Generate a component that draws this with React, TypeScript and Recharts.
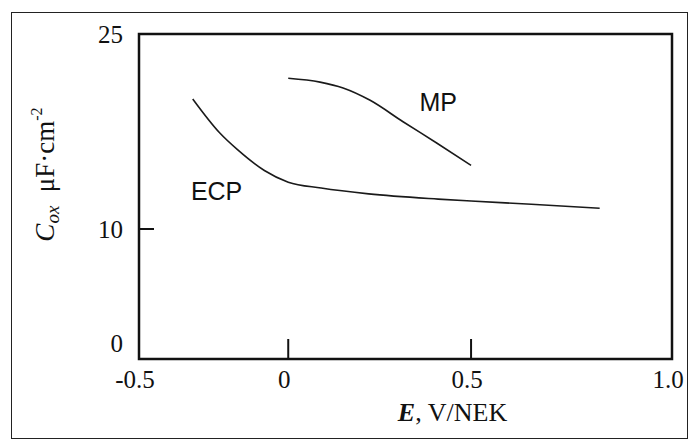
import React from "react"
import { LineChart, Line, XAxis, YAxis, ReferenceArea, ReferenceDot } from "recharts"

// axis ticks
const xTicks = [-0.5, 0, 0.5, 1.0]
const xTickLabels = ["-0.5", "0", "0.5", "1.0"]
// the original E axis is not evenly spaced: where each tick sits along it (0 = left, 1 = right)
const xTickFractions = [0, 0.28, 0.623, 1]
const yTicks = [0, 10, 25]

// ECP curve
const ecpE = [-0.32, -0.23, -0.17, -0.08, 0, 0.09, 0.22, 0.41, 0.5, 0.65, 0.82]
const ecpC = [20.0, 17.4, 16.1, 14.5, 13.6, 13.15, 12.7, 12.3, 12.15, 11.9, 11.6]

// MP curve
const mpE = [0, 0.087, 0.15, 0.224, 0.314, 0.407, 0.5]
const mpC = [21.6, 21.3, 20.85, 19.9, 18.25, 16.6, 14.9]

// curve labels
const curveNames = ["MP", "ECP"]
const curveLabelE = [0.41, -0.24]
const curveLabelC = [19.8, 12.9]

const ecpData = ecpE.map((e, i) => ({ e, c: ecpC[i] }))
const mpData = mpE.map((e, i) => ({ e, c: mpC[i] }))

// piecewise linear scale through the tick positions
function unevenScale(): any {
  let dom = [xTicks[0], xTicks[xTicks.length - 1]]
  let rng = [0, 1]
  const frac = (v: number) => {
    let i = 0
    while (i < xTicks.length - 2 && v > xTicks[i + 1]) i++
    const t = (v - xTicks[i]) / (xTicks[i + 1] - xTicks[i])
    return xTickFractions[i] + t * (xTickFractions[i + 1] - xTickFractions[i])
  }
  const scale: any = (v: number) => rng[0] + frac(v) * (rng[1] - rng[0])
  scale.domain = (d?: number[]) => {
    if (!d) return dom.slice()
    dom = d.slice()
    return scale
  }
  scale.range = (r?: number[]) => {
    if (!r) return rng.slice()
    rng = r.slice()
    return scale
  }
  scale.copy = () => unevenScale().domain(dom).range(rng)
  scale.ticks = () => xTicks.slice()
  scale.tickFormat = () => (v: number) => String(v)
  scale.clamp = () => scale
  return scale
}

const serif = "'Liberation Serif', 'Times New Roman', serif"
const sans = "'Liberation Sans', Arial, sans-serif"

const XTick = (props: any) => {
  const { x, payload } = props
  const i = xTicks.indexOf(payload.value)
  return (
    <text x={x - 4} y={388} textAnchor="middle" fontFamily={serif} fontSize={25} fill="#111">
      {xTickLabels[i] ?? payload.value}
    </text>
  )
}

const YTick = (props: any) => {
  const { y, payload } = props
  return (
    <text
      x={123}
      y={y + 9 - (payload.value === 0 ? 16 : 0)}
      textAnchor="end"
      fontFamily={serif}
      fontSize={25}
      fill="#111"
    >
      {payload.value}
    </text>
  )
}

const YTitle = (props: any) => {
  const { viewBox } = props
  const cx = 54
  const cy = viewBox.y + viewBox.height / 2 - 22
  return (
    <text
      x={cx}
      y={cy}
      transform={`rotate(-90 ${cx} ${cy})`}
      textAnchor="middle"
      fontFamily={serif}
      fontSize={27}
      fill="#111"
    >
      <tspan fontStyle="italic">C</tspan>
      <tspan fontStyle="italic" fontSize={19} dy={5}>ox</tspan>
      <tspan dy={-5} xmlSpace="preserve">{"  μF·cm"}</tspan>
      <tspan fontSize={16} dy={-12}>-2</tspan>
    </text>
  )
}

const XTitle = (props: any) => {
  const { viewBox } = props
  const cx = viewBox.x + viewBox.width / 2 + 47
  return (
    <text x={cx} y={421} textAnchor="middle" fontFamily={serif} fontSize={26} fill="#111">
      <tspan fontStyle="italic" fontWeight="bold">E</tspan>
      <tspan>, V/NEK</tspan>
    </text>
  )
}

const CurveName = (text: string) => (props: any) => {
  const { viewBox } = props
  return (
    <text
      x={viewBox.x + (viewBox.width || 0) / 2}
      y={viewBox.y + (viewBox.height || 0) / 2 + 9}
      textAnchor="middle"
      fontFamily={sans}
      fontSize={25}
      fill="#111"
    >
      {text}
    </text>
  )
}

const App = () => {
  return (
    <div style={{ position: "fixed", left: 0, top: 0, width: 688, height: 439, background: "#fff" }}>
      <div
        style={{
          position: "absolute",
          left: 11,
          top: 12,
          width: 677,
          height: 427,
          boxSizing: "border-box",
          border: "1.5px solid #222",
        }}
      />
      <LineChart
        width={688}
        height={439}
        margin={{ top: 34, right: 16, left: 0, bottom: 0 }}
        style={{ position: "absolute", left: 0, top: 0 }}
      >
        <XAxis
          type="number"
          dataKey="e"
          domain={[-0.5, 1.0]}
          scale={unevenScale()}
          ticks={xTicks}
          height={80}
          axisLine={false}
          tickSize={-20}
          tickLine={{ stroke: "#111", strokeWidth: 2 }}
          tick={<XTick />}
          label={{ content: <XTitle /> }}
          allowDataOverflow
        />
        <YAxis
          type="number"
          domain={[0, 25]}
          ticks={yTicks}
          width={139}
          axisLine={false}
          tickSize={-15}
          tickLine={{ stroke: "#111", strokeWidth: 2 }}
          tick={<YTick />}
          label={{ content: <YTitle /> }}
          allowDataOverflow
        />
        <ReferenceArea
          x1={-0.5}
          x2={1.0}
          y1={0}
          y2={25}
          fill="none"
          stroke="#111"
          strokeWidth={2.5}
          ifOverflow="visible"
        />
        <Line
          data={ecpData}
          dataKey="c"
          type="monotone"
          stroke="#1a1a1a"
          strokeWidth={1.6}
          dot={false}
          isAnimationActive={false}
        />
        <Line
          data={mpData}
          dataKey="c"
          type="monotone"
          stroke="#1a1a1a"
          strokeWidth={1.6}
          dot={false}
          isAnimationActive={false}
        />
        {curveNames.map((name, i) => (
          <ReferenceDot
            key={name}
            x={curveLabelE[i]}
            y={curveLabelC[i]}
            r={0}
            fill="none"
            stroke="none"
            label={{ content: CurveName(name) }}
          />
        ))}
      </LineChart>
    </div>
  )
}

export default App
